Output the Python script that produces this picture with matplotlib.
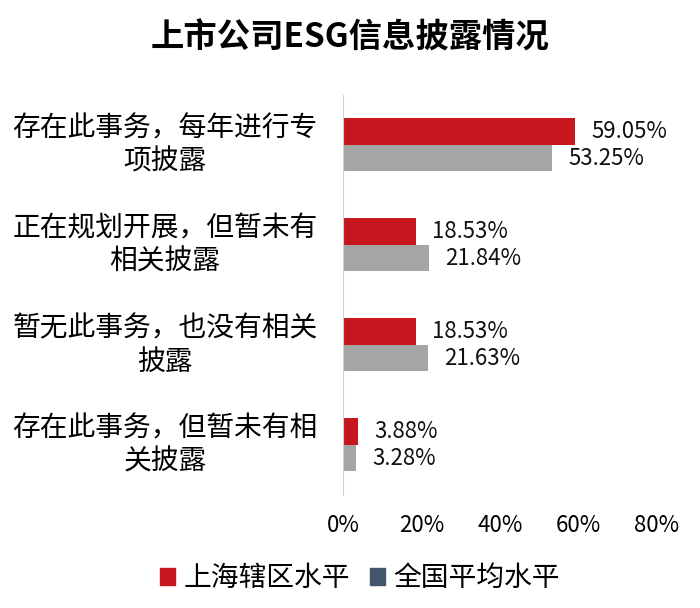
import matplotlib
matplotlib.use("Agg")
import matplotlib.pyplot as plt
import numpy as np
from matplotlib.patches import Patch

plt.rcParams['font.family'] = ['Noto Sans CJK SC', 'DejaVu Sans']

# データ
categories = ["存在此事务，每年进行专\n项披露",
              "正在规划开展，但暂未有\n相关披露",
              "暂无此事务，也没有相关\n披露",
              "存在此事务，但暂未有相\n关披露"]
shanghai = [59.05, 18.53, 18.53, 3.88]
national = [53.25, 21.84, 21.63, 3.28]
xticks = [0, 20, 40, 60, 80]

red = "#C8161E"
gray = "#A5A5A5"

fig = plt.figure(figsize=(7, 6.08), dpi=100)
ax = fig.add_axes([0.49, 0.186, 0.4486, 0.658])

y = np.arange(len(categories))
h = 0.265
ax.barh(y - h / 2, shanghai, height=h, color=red)
ax.barh(y + h / 2, national, height=h, color=gray)

# 数値ラベル
for i in range(len(categories)):
    ax.text(shanghai[i] + 4.2, y[i] - h / 2, "%.2f%%" % shanghai[i],
            va="center", ha="left", fontsize=16, color="#111111")
    ax.text(national[i] + 4.2, y[i] + h / 2, "%.2f%%" % national[i],
            va="center", ha="left", fontsize=16, color="#111111")

ax.set_xlim(0, 80)
ax.set_ylim(len(categories) - 0.5, -0.5)
ax.set_xticks(xticks)
ax.set_xticklabels(["%d%%" % t for t in xticks], fontsize=16)
ax.set_yticks([])
ax.tick_params(axis="x", length=0, pad=14)
for s in ["top", "right", "bottom"]:
    ax.spines[s].set_visible(False)
ax.spines["left"].set_color("#D0D0D0")

# カテゴリ名
trans = matplotlib.transforms.blended_transform_factory(fig.transFigure, ax.transData)
for i, c in enumerate(categories):
    ax.text(165 / 700, y[i], c, transform=trans, ha="center", va="center",
            multialignment="center", fontsize=20, linespacing=1.15)

fig.text(0.5, 0.9375, "上市公司ESG信息披露情况", ha="center", va="center",
         fontsize=24, fontweight="bold")

handles = [Patch(color=red, label="上海辖区水平"),
           Patch(color="#44546A", label="全国平均水平")]
fig.legend(handles=handles, loc="center", bbox_to_anchor=(0.514, 0.049), ncol=2,
           frameon=False, fontsize=20, handlelength=0.55, handleheight=0.55,
           handletextpad=0.3, columnspacing=0.7)

plt.savefig("out.png")
